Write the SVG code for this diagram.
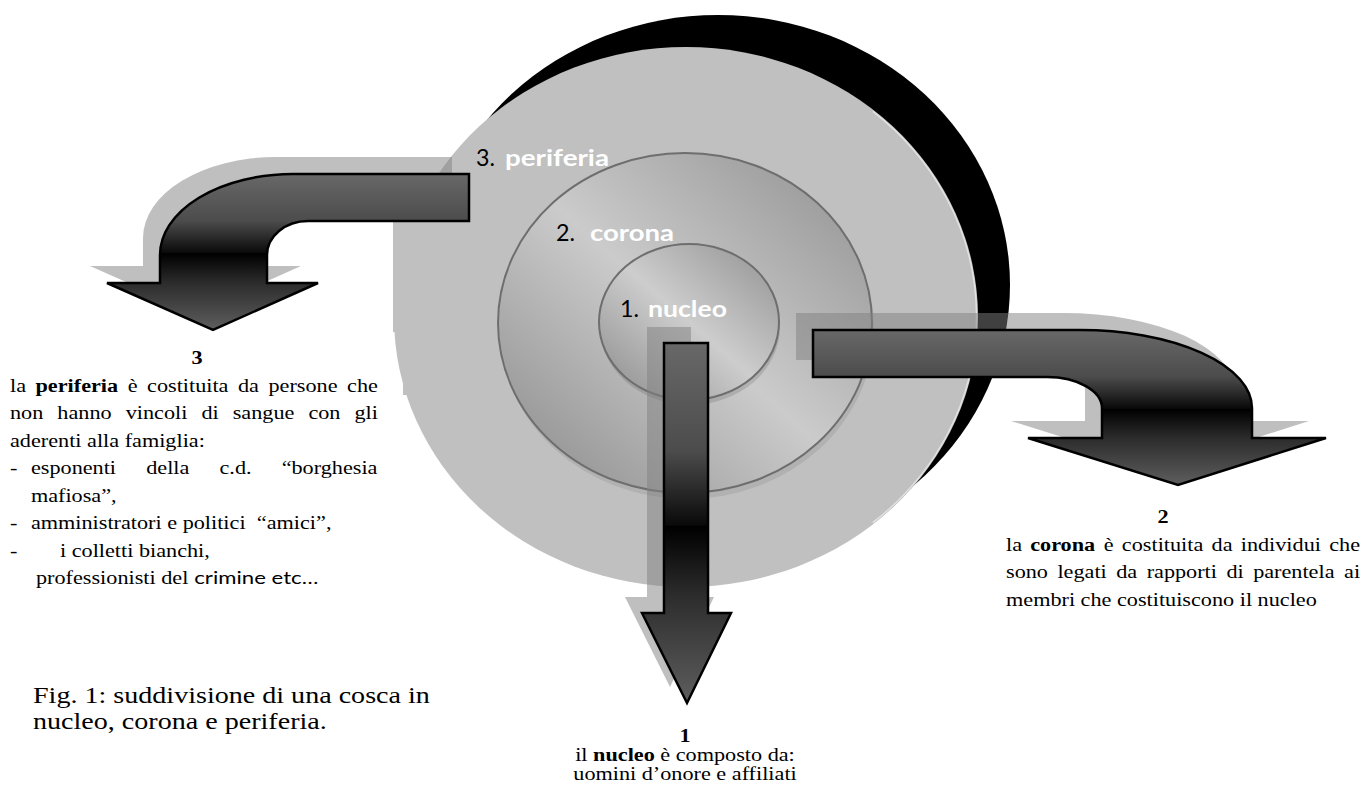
<svg xmlns="http://www.w3.org/2000/svg" xmlns:xlink="http://www.w3.org/1999/xlink" width="1368" height="794" viewBox="0 0 1368 794">
<style>
.t{font-family:"Liberation Serif","Times New Roman",serif;font-size:19px;fill:#000}
.b{font-weight:bold}
.cap{font-family:"Liberation Serif","Times New Roman",serif;font-size:24px;fill:#000}
.sans{font-family:Lato,"Open Sans",sans-serif;font-size:18px;fill:#000}
.lbl{font-family:Lato,"Open Sans",sans-serif;font-size:23px}
.num{fill:#000}
.word{fill:#fff;font-weight:bold}
.arrow{fill:url(#arrowGrad);stroke:#000;stroke-width:2.5;stroke-linejoin:miter}
.shadow{fill:#808080;fill-opacity:.5}
.ringline{stroke:#6e6e6e;stroke-width:2}
</style>
<defs>
<linearGradient id="ring" x1="0" y1="1" x2="1" y2="0">
<stop offset="0" stop-color="#888"/>
<stop offset="0.5" stop-color="#cbcbcb"/>
<stop offset="1" stop-color="#8e8e8e"/>
</linearGradient>
<linearGradient id="core" x1="0" y1="1" x2="1" y2="0">
<stop offset="0" stop-color="#8a8a8a"/>
<stop offset="0.5" stop-color="#cdcdcd"/>
<stop offset="1" stop-color="#909090"/>
</linearGradient>
<linearGradient id="arrowGrad" x1="0" y1="0" x2="0" y2="1">
<stop offset="0" stop-color="#686868"/>
<stop offset="0.3" stop-color="#4c4c4c"/>
<stop offset="0.505" stop-color="#0a0a0a"/>
<stop offset="0.51" stop-color="#000"/>
<stop offset="0.7" stop-color="#2c2c2c"/>
<stop offset="1" stop-color="#5e5e5e"/>
</linearGradient>
<path id="p3" d="M469,174 L293,174 A133,81 0 0 0 160,255 L160,283 L107,283 L213,330 L318,283 L267,283 L267,255 A41,34 0 0 1 308,221 L469,221 Z"/>
<path id="p2" d="M813,330 L1080,330 A172,78 0 0 1 1252,408 L1252,438 L1326,438 L1178,485 L1028,438 L1102,438 L1102,408 A55,31 0 0 0 1047,377 L813,377 Z"/>
<path id="p1" d="M664,343 L708,343 L708,613 L731,613 L687,703 L642,613 L664,613 Z"/>
</defs>

<g id="node-periferia">
<ellipse cx="718" cy="285" rx="292" ry="270" fill="#000"/>
<path d="M393,200 L393,332 L403,332 L403,395 L460,395 L460,200 Z" fill="#c0c0c0"/>
<ellipse cx="686" cy="317" rx="292" ry="270" fill="#c0c0c0"/>
<path d="M872.8,111.3 A290.5,268.5 0 0 1 872.8,522.7" fill="none" stroke="#e2e2e2" stroke-width="1.5"/>
<text class="lbl num" x="476" y="166" textLength="19" lengthAdjust="spacingAndGlyphs">3.</text>
<text class="lbl word" x="505" y="166" textLength="104" lengthAdjust="spacingAndGlyphs">periferia</text>
</g>

<g id="node-corona">
<ellipse cx="687" cy="329" rx="187" ry="170" fill="#000" fill-opacity="0.08"/>
<ellipse cx="685" cy="323" rx="187" ry="170" fill="url(#ring)" class="ringline"/>
<text class="lbl num" x="556" y="241" textLength="19" lengthAdjust="spacingAndGlyphs">2.</text>
<text class="lbl word" x="590" y="241" textLength="84" lengthAdjust="spacingAndGlyphs">corona</text>
</g>

<g id="node-nucleo">
<ellipse cx="690" cy="327" rx="90" ry="78" fill="#000" fill-opacity="0.12"/>
<ellipse cx="689" cy="322" rx="90" ry="78" fill="url(#core)" class="ringline"/>
<text class="lbl num" x="620" y="317" textLength="19" lengthAdjust="spacingAndGlyphs">1.</text>
<text class="lbl word" x="648" y="317" textLength="79" lengthAdjust="spacingAndGlyphs">nucleo</text>
</g>

<g id="connectors">
<use xlink:href="#p3" href="#p3" class="shadow" transform="translate(-17,-17)"/>
<use xlink:href="#p2" href="#p2" class="shadow" transform="translate(-17,-17)"/>
<use xlink:href="#p1" href="#p1" class="shadow" transform="translate(-17,-16)"/>
<use xlink:href="#p3" href="#p3" class="arrow"/>
<use xlink:href="#p2" href="#p2" class="arrow"/>
<use xlink:href="#p1" href="#p1" class="arrow"/>
</g>

<g id="text-3" transform="translate(10,0) scale(1.17,1)">
<text class="t b" x="159.8" y="364" text-anchor="middle">3</text>
<text class="t" y="392"><tspan x="0">la</tspan><tspan x="21.81" font-weight="bold">periferia</tspan><tspan x="100.6">è</tspan><tspan x="117.13">costituita</tspan><tspan x="194.89">da</tspan><tspan x="220.92">persone</tspan><tspan x="288.1">che</tspan></text>
<text class="t" y="419.5"><tspan x="0">non</tspan><tspan x="40.46">hanno</tspan><tspan x="98.86">vincoli</tspan><tspan x="163.6">di</tspan><tspan x="190.34">sangue</tspan><tspan x="255.06">con</tspan><tspan x="294.46">gli</tspan></text>
<text class="t" x="0" y="447">aderenti alla famiglia:</text>
<text class="t" y="474.5"><tspan x="0">-</tspan><tspan x="17.9">esponenti</tspan><tspan x="116.42">della</tspan><tspan x="179.05">c.d.</tspan><tspan x="232.18">“borghesia</tspan></text>
<text class="t" x="17.9" y="502">mafiosa”,</text>
<text class="t" y="529.5"><tspan x="0">-</tspan><tspan x="17.9">amministratori e politici</tspan><tspan x="211">“amici”,</tspan></text>
<text class="t" y="557"><tspan x="0">-</tspan><tspan x="42.7">i colletti bianchi,</tspan></text>
<text class="t" x="22.2" y="584.5">professionisti del</text>
<text class="sans" x="157.5" y="584.5" textLength="106" lengthAdjust="spacingAndGlyphs">crimine etc…</text>
</g>

<g id="text-2" transform="translate(1006,0) scale(1.17,1)">
<text class="t b" x="134.2" y="523" text-anchor="middle">2</text>
<text class="t" y="551"><tspan x="0">la</tspan><tspan x="20.7" font-weight="bold">corona</tspan><tspan x="83.62">è</tspan><tspan x="99.04">costituita</tspan><tspan x="175.69">da</tspan><tspan x="200.61">individui</tspan><tspan x="276.22">che</tspan></text>
<text class="t" y="578.5"><tspan x="0">sono</tspan><tspan x="43.94">legati</tspan><tspan x="94.21">da</tspan><tspan x="120.2">rapporti</tspan><tspan x="188.4">di</tspan><tspan x="211.23">parentela</tspan><tspan x="288.92">ai</tspan></text>
<text class="t" x="0" y="606">membri che costituiscono il nucleo</text>
</g>

<g id="text-1" transform="translate(685,0) scale(1.17,1)">
<text class="t b" x="0" y="742" text-anchor="middle">1</text>
<text class="t" x="0" y="761" text-anchor="middle">il <tspan font-weight="bold">nucleo</tspan> è composto da:</text>
<text class="t" x="0" y="780" text-anchor="middle">uomini d’onore e affiliati</text>
</g>

<g id="caption" transform="translate(33,0) scale(1.17,1)">
<text class="cap" x="0" y="703">Fig. 1: suddivisione di una cosca in</text>
<text class="cap" x="0" y="729">nucleo, corona e periferia.</text>
</g>
</svg>
